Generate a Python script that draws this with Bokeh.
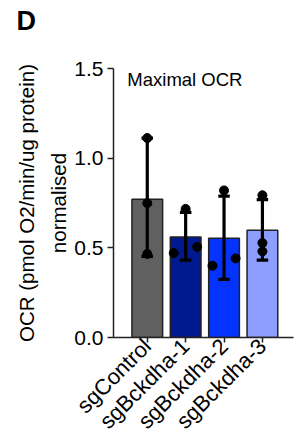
import math
from bokeh.plotting import figure
from bokeh.models import Label, ColumnDataSource, FixedTicker, Range1d, Title
from bokeh.embed import file_html
from bokeh.resources import INLINE

categories = ["sgControl", "sgBckdha-1", "sgBckdha-2", "sgBckdha-3"]
means = [0.771, 0.561, 0.553, 0.598]
err_upper = [1.112, 0.698, 0.788, 0.769]
err_lower = [0.452, 0.432, 0.324, 0.432]
colors = ["#606060", "#00198f", "#0433ff", "#8c9eff"]
# individual replicate points: (category index, offset, value)
pt_cat = [0, 0, 0, 1, 1, 1, 2, 2, 2, 3, 3, 3]
pt_off = [0, 0, 0, -0.31, 0, 0.30, -0.30, 0, 0.30, 0, 0, 0]
pt_val = [1.112, 0.749, 0.466, 0.471, 0.717, 0.505, 0.400, 0.820, 0.441, 0.793, 0.527, 0.480]
y_ticks = [0, 0.5, 1.0, 1.5]
y_tick_labels = ["0.0", "0.5", "1.0", "1.5"]

FONT = "Liberation Sans"
CAP = 0.15

p = figure(width=296, height=445, output_backend="svg", toolbar_location=None,
           x_range=Range1d(-0.88, 3.81), y_range=Range1d(0, 1.5),
           min_border_left=113, min_border_right=3, min_border_top=68, min_border_bottom=108)
p.outline_line_color = None
p.grid.visible = False
p.background_fill_color = None
p.border_fill_color = "white"

xs = list(range(len(categories)))
src = ColumnDataSource(dict(x=xs, top=means, color=colors, upper=err_upper, lower=err_lower,
                            x0=[x - CAP for x in xs], x1=[x + CAP for x in xs]))
p.vbar(x="x", top="top", bottom=0, width=0.8, source=src, fill_color="color",
       line_color="#222222", line_width=1.5)

p.segment(x0="x", y0="lower", x1="x", y1="upper", source=src, line_width=3.2, line_color="black")
p.segment(x0="x0", y0="upper", x1="x1", y1="upper", source=src, line_width=3.2, line_color="black")
p.segment(x0="x0", y0="lower", x1="x1", y1="lower", source=src, line_width=3.2, line_color="black")

px = [c + o for c, o in zip(pt_cat, pt_off)]
p.scatter(px, pt_val, size=9, color="black")

# axes
for ax in (p.xaxis[0], p.yaxis[0]):
    ax.axis_line_width = 1.5
    ax.axis_line_color = "#222222"
    ax.major_tick_line_width = 1.5
    ax.major_tick_line_color = "#222222"
    ax.major_tick_in = 0
    ax.major_tick_out = 6
    ax.minor_tick_line_color = None
    ax.major_label_text_font = FONT
    ax.major_label_text_color = "black"
    ax.major_label_text_font_size = "21px"

p.yaxis.ticker = FixedTicker(ticks=y_ticks)
p.yaxis.major_label_overrides = {t: l for t, l in zip(y_ticks, y_tick_labels)}
p.yaxis.major_label_standoff = 4
p.yaxis.axis_label = "OCR (pmol O2/min/ug protein)\nnormalised"
p.yaxis.axis_label_text_font = FONT
p.yaxis.axis_label_text_font_size = "20.5px"
p.yaxis.axis_label_text_font_style = "normal"
p.yaxis.axis_label_text_color = "black"
p.yaxis.axis_label_text_line_height = 1.4
p.yaxis.axis_label_standoff = 1
p.yaxis.axis_label_text_align = "center"

p.xaxis.ticker = FixedTicker(ticks=xs)
p.xaxis.major_label_overrides = {i: c for i, c in enumerate(categories)}
p.xaxis.major_label_orientation = math.pi / 4
p.xaxis.major_label_text_font_size = "22px"
p.xaxis.major_tick_out = 5
p.xaxis.major_label_standoff = 0

p.add_layout(Label(x=-0.52, y=1.439, text="Maximal OCR", text_font=FONT,
                   text_font_size="18.5px", text_color="black",
                   text_baseline="alphabetic"))
p.add_layout(Title(text="D\n ", align="left", offset=-97, standoff=2, vertical_align="top",
                   text_font=FONT, text_font_size="27px", text_font_style="bold",
                   text_color="black"), "above")

open("out.html", "w").write(file_html(p, INLINE))
